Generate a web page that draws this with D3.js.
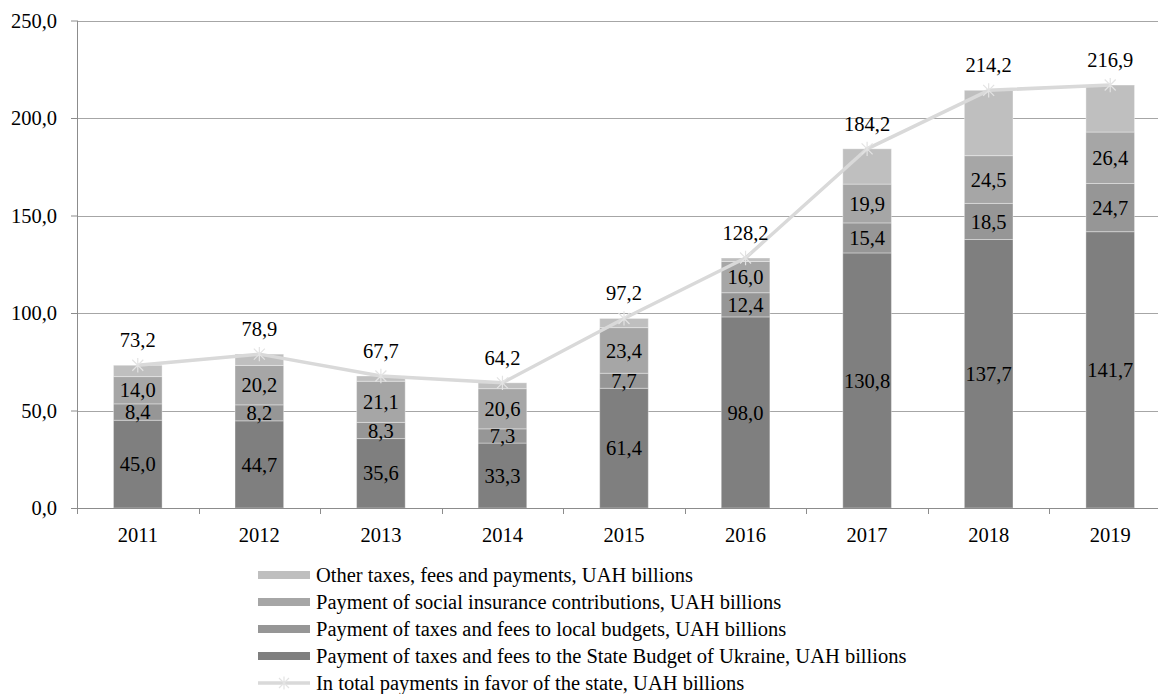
<!DOCTYPE html>
<html>
<head>
<meta charset="utf-8">
<script src="https://cdn.jsdelivr.net/npm/d3@7"></script>
<style>
  html, body { margin: 0; padding: 0; background: #fff; }
  svg { display: block; font-family: "Liberation Serif", "Times New Roman", serif; }
</style>
</head>
<body>
<svg id="chart" width="1158" height="694"></svg>
<script>
// Years on the category axis
const years = ["2011", "2012", "2013", "2014", "2015", "2016", "2017", "2018", "2019"];

// Stacked components, UAH billions
const stateBudget = [45.0, 44.7, 35.6, 33.3, 61.4, 98.0, 130.8, 137.7, 141.7];
const localBudgets = [8.4, 8.2, 8.3, 7.3, 7.7, 12.4, 15.4, 18.5, 24.7];
const socialInsurance = [14.0, 20.2, 21.1, 20.6, 23.4, 16.0, 19.9, 24.5, 26.4];
const otherPayments = [5.8, 5.8, 2.7, 3.0, 4.7, 1.8, 18.1, 33.5, 24.1];

// Total payments line, UAH billions
const totals = [73.2, 78.9, 67.7, 64.2, 97.2, 128.2, 184.2, 214.2, 216.9];

// Value-axis ticks
const yTicks = [0, 50, 100, 150, 200, 250];

const seriesNames = [
  "Payment of taxes and fees to the State Budget of Ukraine, UAH billions",
  "Payment of taxes and fees to local budgets, UAH billions",
  "Payment of social insurance contributions, UAH billions",
  "Other taxes, fees and payments, UAH billions"
];
const totalName = "In total payments in favor of the state, UAH billions";

const colors = ["#7f7f7f", "#969696", "#a6a6a6", "#bfbfbf"];
const lineColor = "#d9d9d9";
const showSegmentLabel = [true, true, true, false];
const fontSize = 20.5;

const fmt = v => v.toFixed(1).replace(".", ",");

const svg = d3.select("#chart");
const plotLeft = 77, plotRight = 1171, plotTop = 20.5, plotBottom = 508;

const x = d3.scaleBand().domain(years).range([plotLeft, plotRight]).paddingInner(0.6).paddingOuter(0.3);
const xb = d3.scaleBand().domain(years).range([plotLeft, plotRight]);
const y = d3.scaleLinear().domain([0, 250]).range([plotBottom, plotTop]);

// gridlines
svg.append("g").selectAll("line").data(yTicks).join("line")
  .attr("x1", plotLeft).attr("x2", 1158)
  .attr("y1", d => Math.round(y(d)) + 0.5).attr("y2", d => Math.round(y(d)) + 0.5)
  .attr("stroke", "#a6a6a6").attr("stroke-width", 1);

// y axis
const yAxis = svg.append("g").attr("transform", `translate(${plotLeft},0)`)
  .call(d3.axisLeft(y).tickValues(yTicks).tickSize(6).tickPadding(14).tickFormat(fmt));
yAxis.attr("font-family", null).attr("font-size", null);
yAxis.select(".domain").attr("stroke", "#8c8c8c").attr("d", `M0.5,${plotTop}V${plotBottom}`);
yAxis.selectAll(".tick line").attr("stroke", "#8c8c8c");
yAxis.selectAll("text").attr("font-size", fontSize).attr("fill", "#000");

// stacked bars
const table = years.map((yr, i) => ({
  year: yr, s0: stateBudget[i], s1: localBudgets[i], s2: socialInsurance[i], s3: otherPayments[i]
}));
const stack = d3.stack().keys(["s0", "s1", "s2", "s3"])(table);

const gBars = svg.append("g");
stack.forEach((layer, k) => {
  const g = gBars.append("g");
  g.selectAll("rect").data(layer).join("rect")
    .attr("x", d => x(d.data.year))
    .attr("width", x.bandwidth())
    .attr("y", d => y(d[1]))
    .attr("height", d => y(d[0]) - y(d[1]))
    .attr("fill", colors[k])
    .attr("stroke", "rgba(255,255,255,0.35)")
    .attr("stroke-width", 1);
  if (showSegmentLabel[k]) {
    g.selectAll("text").data(layer).join("text")
      .attr("x", d => x(d.data.year) + x.bandwidth() / 2)
      .attr("y", d => (y(d[0]) + y(d[1])) / 2)
      .attr("dy", "0.35em")
      .attr("text-anchor", "middle")
      .attr("font-size", fontSize)
      .attr("fill", "#000")
      .text(d => fmt(d[1] - d[0]));
  }
});

// x axis
const xAxis = svg.append("g").attr("transform", `translate(0,${plotBottom})`);
xAxis.append("line").attr("x1", plotLeft).attr("x2", 1158).attr("y1", 0.5).attr("y2", 0.5)
  .attr("stroke", "#8c8c8c");
xAxis.selectAll("line.tk").data(years.concat(["end"])).join("line").attr("class", "tk")
  .attr("x1", (d, i) => Math.round(plotLeft + i * xb.bandwidth()) + 0.5)
  .attr("x2", (d, i) => Math.round(plotLeft + i * xb.bandwidth()) + 0.5)
  .attr("y1", 0).attr("y2", 6).attr("stroke", "#8c8c8c");
xAxis.selectAll("text").data(years).join("text")
  .attr("x", d => xb(d) + xb.bandwidth() / 2)
  .attr("y", 34)
  .attr("text-anchor", "middle")
  .attr("font-size", fontSize)
  .attr("fill", "#000")
  .text(d => d);

// total line
const cx = i => x(years[i]) + x.bandwidth() / 2;
const line = d3.line().x((d, i) => cx(i)).y(d => y(d));
svg.append("path").datum(totals)
  .attr("d", line).attr("fill", "none")
  .attr("stroke", lineColor).attr("stroke-width", 3.5).attr("stroke-linejoin", "round");

const starPath = r => `M${-r},${-r}L${r},${r}M${-r},${r}L${r},${-r}M0,${-r * 1.3}V${r * 1.3}`;
svg.append("g").selectAll("path").data(totals).join("path")
  .attr("transform", (d, i) => `translate(${cx(i)},${y(d)})`)
  .attr("d", starPath(5.5)).attr("fill", "none")
  .attr("stroke", "#e3e3e3").attr("stroke-width", 1.2);

svg.append("g").selectAll("text").data(totals).join("text")
  .attr("x", (d, i) => cx(i))
  .attr("y", d => y(d) - 18)
  .attr("text-anchor", "middle")
  .attr("font-size", fontSize)
  .attr("fill", "#000")
  .text(d => fmt(d));

// legend
const legendItems = [
  { name: seriesNames[3], color: colors[3], type: "bar" },
  { name: seriesNames[2], color: colors[2], type: "bar" },
  { name: seriesNames[1], color: colors[1], type: "bar" },
  { name: seriesNames[0], color: colors[0], type: "bar" },
  { name: totalName, color: lineColor, type: "line" }
];
const lg = svg.append("g").attr("transform", "translate(258,575)");
const row = lg.selectAll("g").data(legendItems).join("g")
  .attr("transform", (d, i) => `translate(0,${i * 27})`);
row.filter(d => d.type === "bar").append("rect")
  .attr("x", 0).attr("y", -4).attr("width", 52).attr("height", 8).attr("fill", d => d.color);
const lineRow = row.filter(d => d.type === "line");
lineRow.append("line").attr("x1", 0).attr("x2", 52).attr("y1", 0).attr("y2", 0)
  .attr("stroke", lineColor).attr("stroke-width", 3.5);
lineRow.append("path").attr("transform", "translate(26,0)")
  .attr("d", starPath(5)).attr("fill", "none").attr("stroke", "#e3e3e3").attr("stroke-width", 1.2);
row.append("text").attr("x", 58).attr("dy", "0.35em")
  .attr("font-size", fontSize).attr("fill", "#000").text(d => d.name);
</script>
</body>
</html>
